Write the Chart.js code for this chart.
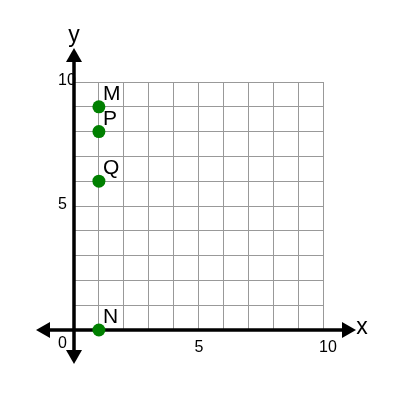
<!DOCTYPE html>
<html>
<head>
<meta charset="utf-8">
<script src="https://cdn.jsdelivr.net/npm/chart.js@4"></script>
<style>
  html, body { margin: 0; padding: 0; background: #fff; }
  #wrap { width: 400px; height: 400px; }
</style>
</head>
<body>
<div id="wrap"><canvas id="myChart" width="400" height="400"></canvas></div>
<script>
  'use strict';

  // Point data
  const pointNames = ['M', 'P', 'Q', 'N'];
  const xValues = [1, 1, 1, 1];
  const yValues = [9, 8, 6, 0];

  // Axis tick labels
  const xTickLabels = [5, 10];
  const yTickLabels = [5, 10];
  const originLabel = '0';

  const FONT = '"Liberation Sans", Arial, sans-serif';

  const arrowHead = (ctx, tipX, tipY, dir) => {
    // dir: 'left' | 'right' | 'up' | 'down'
    const len = 14, half = 8;
    ctx.beginPath();
    if (dir === 'right') {
      ctx.moveTo(tipX, tipY); ctx.lineTo(tipX - len, tipY - half); ctx.lineTo(tipX - len, tipY + half);
    } else if (dir === 'left') {
      ctx.moveTo(tipX, tipY); ctx.lineTo(tipX + len, tipY - half); ctx.lineTo(tipX + len, tipY + half);
    } else if (dir === 'up') {
      ctx.moveTo(tipX, tipY); ctx.lineTo(tipX - half, tipY + len); ctx.lineTo(tipX + half, tipY + len);
    } else {
      ctx.moveTo(tipX, tipY); ctx.lineTo(tipX - half, tipY - len); ctx.lineTo(tipX + half, tipY - len);
    }
    ctx.closePath();
    ctx.fill();
  };

  /**
   * Draws the tick labels, the thick axes with arrows and the axis names
   */
  const axesPlugin = {
    id: 'axesPlugin',
    beforeDatasetsDraw(chart) {
      const { ctx, scales: { x, y } } = chart;
      const x0 = x.getPixelForValue(0);
      const y0 = y.getPixelForValue(0);
      const xMax = x.getPixelForValue(10);
      const yMax = y.getPixelForValue(10);

      ctx.save();
      ctx.fillStyle = '#000';
      ctx.font = '16px ' + FONT;
      ctx.textBaseline = 'middle';
      ctx.textAlign = 'left';
      yTickLabels.forEach(v => {
        ctx.fillText(String(v), x0 - 16, y.getPixelForValue(v) - 1);
      });
      xTickLabels.forEach(v => {
        ctx.fillText(String(v), x.getPixelForValue(v) - 4, y0 + 18);
      });
      ctx.fillText(originLabel, x0 - 16, y0 + 14);

      // axes
      ctx.strokeStyle = '#000';
      ctx.lineWidth = 3.5;
      ctx.beginPath();
      ctx.moveTo(x0 - 30, y0);
      ctx.lineTo(xMax + 25, y0);
      ctx.moveTo(x0, yMax - 26);
      ctx.lineTo(x0, y0 + 25);
      ctx.stroke();
      arrowHead(ctx, x0 - 38, y0, 'left');
      arrowHead(ctx, xMax + 33, y0, 'right');
      arrowHead(ctx, x0, yMax - 34, 'up');
      arrowHead(ctx, x0, y0 + 34, 'down');

      ctx.font = '23px ' + FONT;
      ctx.textAlign = 'center';
      ctx.fillText('x', xMax + 39, y0 - 2);
      ctx.fillText('y', x0, yMax - 46);
      ctx.restore();
    },
    afterDatasetsDraw(chart) {
      const { ctx, scales: { x, y } } = chart;
      ctx.save();
      ctx.fillStyle = '#000';
      ctx.font = '21px ' + FONT;
      ctx.textAlign = 'left';
      ctx.textBaseline = 'alphabetic';
      pointNames.forEach((name, i) => {
        const px = x.getPixelForValue(xValues[i]);
        const py = y.getPixelForValue(yValues[i]);
        ctx.fillText(name, px + 4, py - 7);
      });
      ctx.restore();
    }
  };

  const canvas = document.getElementById('myChart');
  const gridOpts = { color: '#999', lineWidth: 1, drawTicks: false };

  new Chart(canvas, {
    type: 'scatter',
    data: {
      datasets: [{
        data: xValues.map((v, i) => ({ x: v, y: yValues[i] })),
        backgroundColor: '#008000',
        borderWidth: 0,
        pointRadius: 6.5,
        pointHoverRadius: 6.5,
        clip: false
      }]
    },
    options: {
      responsive: false,
      animation: false,
      devicePixelRatio: 1,
      layout: { padding: { left: 74, right: 77, top: 82, bottom: 70 } },
      plugins: { legend: { display: false }, tooltip: { enabled: false } },
      scales: {
        x: {
          type: 'linear', min: 0, max: 10,
          ticks: { stepSize: 1, display: false },
          grid: gridOpts,
          border: { display: false }
        },
        y: {
          type: 'linear', min: 0, max: 10,
          ticks: { stepSize: 1, display: false },
          grid: gridOpts,
          border: { display: false }
        }
      }
    },
    plugins: [axesPlugin]
  });
</script>
</body>
</html>
